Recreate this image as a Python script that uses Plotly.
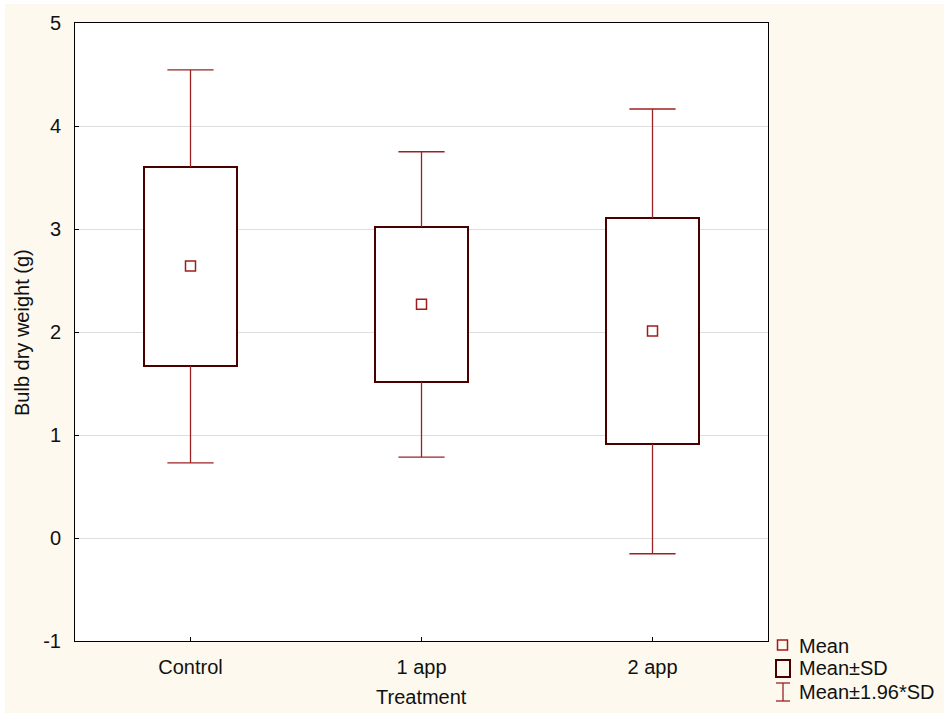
import plotly.graph_objects as go

# Treatment groups and summary statistics of bulb dry weight (g)
categories = ["Control", "1 app", "2 app"]
means = [2.64, 2.27, 2.01]
sd_low = [1.67, 1.515, 0.913]
sd_high = [3.60, 3.02, 3.107]
ci_low = [0.73, 0.786, -0.153]
ci_high = [4.545, 3.75, 4.165]
y_ticks = [-1, 0, 1, 2, 3, 4, 5]
y_tick_labels = ["-1", "0", "1", "2", "3", "4", "5"]

FONT = "Liberation Sans, Arial, sans-serif"
BOX_COLOR = "#4B0000"
WHISKER_COLOR = "#9A2222"
MEAN_COLOR = "#A01C1C"
CREAM = "#FDF9EE"

# plot-area geometry in pixels
W, H = 944, 713
L, R, T, B = 75, 768, 23, 641


def px(x):
    return (x - L) / (R - L)


def py(y):
    return (B - y) / (B - T)


pos = list(range(len(categories)))
cap = 0.1

fig = go.Figure()

# Mean ± SD boxes
fig.add_trace(go.Bar(
    x=pos,
    y=[h - l for h, l in zip(sd_high, sd_low)],
    base=sd_low,
    width=0.4,
    marker=dict(color="white", line=dict(color=BOX_COLOR, width=2)),
    showlegend=False,
    hoverinfo="skip",
))

# Mean ± 1.96*SD whiskers (drawn outside the boxes, with caps)
wx, wy = [], []
for i in pos:
    wx += [i, i, None, i - cap, i + cap, None]
    wy += [sd_high[i], ci_high[i], None, ci_high[i], ci_high[i], None]
    wx += [i, i, None, i - cap, i + cap, None]
    wy += [sd_low[i], ci_low[i], None, ci_low[i], ci_low[i], None]
fig.add_trace(go.Scatter(
    x=wx, y=wy, mode="lines",
    line=dict(color=WHISKER_COLOR, width=1.3),
    showlegend=False, hoverinfo="skip",
))

# Means
fig.add_trace(go.Scatter(
    x=pos, y=means, mode="markers",
    marker=dict(symbol="square-open", size=10, color=MEAN_COLOR,
                line=dict(color=MEAN_COLOR, width=1.5)),
    showlegend=False,
))

shapes = [
    # thin white edge around the cream page
    dict(type="rect", xref="paper", yref="paper", x0=px(0), x1=px(5),
         y0=py(H), y1=py(0), fillcolor="white", line=dict(width=0), layer="above"),
    dict(type="rect", xref="paper", yref="paper", x0=px(0), x1=px(W),
         y0=py(4), y1=py(0), fillcolor="white", line=dict(width=0), layer="above"),
    # legend symbols
    dict(type="rect", xref="paper", yref="paper", x0=px(777.5), x1=px(787.5),
         y0=py(650), y1=py(640), line=dict(color=MEAN_COLOR, width=1.5)),
    dict(type="rect", xref="paper", yref="paper", x0=px(776), x1=px(790),
         y0=py(677), y1=py(660), line=dict(color=BOX_COLOR, width=2)),
    dict(type="line", xref="paper", yref="paper", x0=px(783), x1=px(783),
         y0=py(701), y1=py(683), line=dict(color=WHISKER_COLOR, width=1.3)),
    dict(type="line", xref="paper", yref="paper", x0=px(776), x1=px(790),
         y0=py(683), y1=py(683), line=dict(color=WHISKER_COLOR, width=1.3)),
    dict(type="line", xref="paper", yref="paper", x0=px(776), x1=px(790),
         y0=py(701), y1=py(701), line=dict(color=WHISKER_COLOR, width=1.3)),
]

text_font = dict(family=FONT, size=20, color="#111111")
annotations = [
    dict(text="Mean", x=px(797), y=py(646), xref="paper", yref="paper",
         xanchor="left", yanchor="middle", showarrow=False, font=text_font),
    dict(text="Mean±SD", x=px(797), y=py(668), xref="paper", yref="paper",
         xanchor="left", yanchor="middle", showarrow=False, font=text_font),
    dict(text="Mean±1.96*SD", x=px(797), y=py(692), xref="paper", yref="paper",
         xanchor="left", yanchor="middle", showarrow=False, font=text_font),
    # axis titles
    dict(text="Treatment", x=0.5, y=py(697), xref="paper", yref="paper",
         xanchor="center", yanchor="middle", showarrow=False, font=text_font),
    dict(text="Bulb dry weight (g)", x=px(22), y=py(333), xref="paper", yref="paper",
         xanchor="center", yanchor="middle", textangle=-90, showarrow=False,
         font=text_font),
]

fig.update_layout(
    template="none",
    width=W, height=H, autosize=False,
    margin=dict(l=L, r=W - R, t=T, b=H - B, pad=0),
    paper_bgcolor=CREAM,
    plot_bgcolor="white",
    font=text_font,
    bargap=0,
    shapes=shapes,
    annotations=annotations,
    xaxis=dict(
        range=[-0.5, 2.5], tickvals=pos, ticktext=categories,
        showgrid=False, zeroline=False,
        showline=True, linecolor="black", linewidth=1, mirror=True,
        ticks="inside", ticklen=4, tickcolor="black",
        ticklabelstandoff=8, tickfont=text_font,
    ),
    yaxis=dict(
        range=[-1, 5], tickvals=y_ticks, ticktext=y_tick_labels,
        showgrid=True, gridcolor="#DEDEDE", gridwidth=1, zeroline=False,
        showline=True, linecolor="black", linewidth=1, mirror=True,
        ticks="inside", ticklen=4, tickcolor="black",
        ticklabelstandoff=9, tickfont=text_font,
    ),
)

fig.write_html("out.html")
